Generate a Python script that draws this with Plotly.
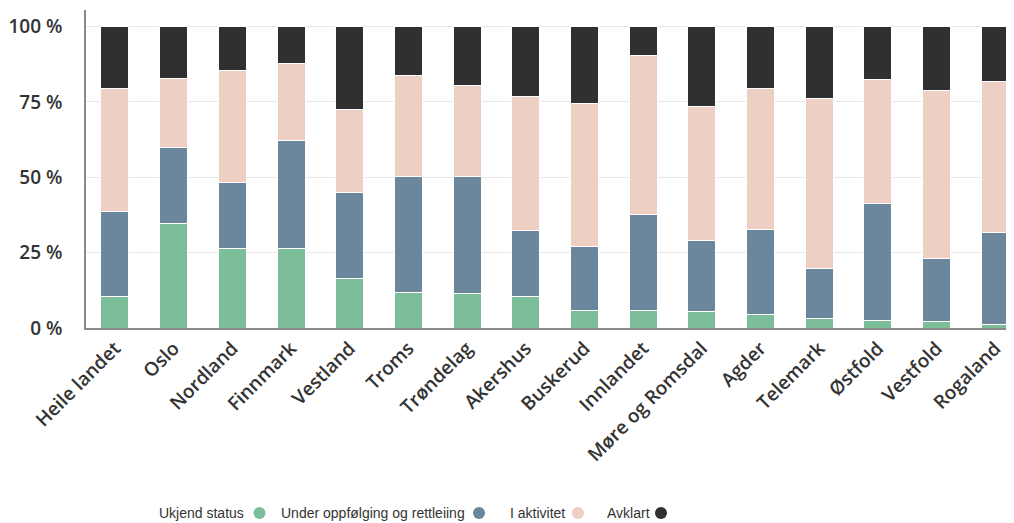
import plotly.graph_objects as go

categories = ["Heile landet", "Oslo", "Nordland", "Finnmark", "Vestland", "Troms",
              "Trøndelag", "Akershus", "Buskerud", "Innlandet", "Møre og Romsdal",
              "Agder", "Telemark", "Østfold", "Vestfold", "Rogaland"]

ukjend_status = [10.5, 34.8, 26.3, 26.3, 16.5, 11.9, 11.5, 10.5, 5.9, 5.9, 5.4, 4.5, 3.0, 2.5, 2.1, 1.3]
under_oppfolging = [28.2, 25.1, 22.1, 35.9, 28.6, 38.4, 38.8, 21.8, 21.2, 31.9, 23.6, 28.1, 16.7, 38.9, 20.8, 30.5]
i_aktivitet = [40.6, 22.8, 37.1, 25.6, 27.4, 33.4, 30.0, 44.6, 47.3, 52.6, 44.4, 46.7, 56.5, 41.1, 56.0, 50.0]
avklart = [20.7, 17.3, 14.5, 12.2, 27.5, 16.3, 19.7, 23.1, 25.6, 9.6, 26.6, 20.7, 23.8, 17.5, 21.1, 18.2]

series_names = ["Ukjend status", "Under oppfølging og rettleiing", "I aktivitet", "Avklart"]
series_values = [ukjend_status, under_oppfolging, i_aktivitet, avklart]
colors = ["#7dbe9a", "#6c879c", "#eecfc3", "#303030"]

y_ticks = [0, 25, 50, 75, 100]

fig = go.Figure()
for name, vals, col in zip(series_names, series_values, colors):
    fig.add_trace(go.Bar(
        x=categories, y=vals, name=name,
        marker=dict(color=col, line=dict(color="#ffffff", width=1)),
        showlegend=False,
    ))

tick_font = dict(family="Open Sans", size=19, color="#333333", weight=600)

# the page body adds an 8px offset; the figure fills the rest of the window
fig.update_layout(
    width=1006, height=515, autosize=False,
    barmode="stack", bargap=0.523,
    plot_bgcolor="#ffffff", paper_bgcolor="#ffffff",
    margin=dict(l=78, r=0, t=2, b=195),
    xaxis=dict(
        type="category", range=[-0.494, 15.32], automargin=False,
        tickangle=-45, tickfont=tick_font,
        showline=True, linecolor="#8a8a8a", linewidth=1.5,
        showgrid=False, ticks="",
    ),
    yaxis=dict(
        range=[0, 105.5], tickvals=y_ticks, ticktext=[f"{v} %" for v in y_ticks],
        tickfont=tick_font, automargin=False,
        showline=True, linecolor="#8a8a8a", linewidth=1.5,
        showgrid=True, gridcolor="#e8e8e8", gridwidth=1,
        ticks="outside", ticklen=18, tickcolor="rgba(0,0,0,0)",
        zeroline=False,
    ),
)

# custom legend: text followed by a coloured dot (positions in window pixels)
legend_font = dict(family="Liberation Sans, Arial, sans-serif", size=14, color="#333333")
text_right_px = [246, 467, 567, 652]
dot_center_px = [259.5, 479, 578, 661]
legend_y_px = 513
plot_left, plot_w = 86, 928
plot_bottom, plot_h = 328, 318
ly = (plot_bottom - legend_y_px) / plot_h
for name, col, tx, dx in zip(series_names, colors, text_right_px, dot_center_px):
    fig.add_annotation(
        x=(tx - plot_left) / plot_w, y=ly, xref="paper", yref="paper",
        text=name, showarrow=False, xanchor="right", yanchor="middle",
        font=legend_font,
    )
    fig.add_shape(
        type="circle", xref="paper", yref="paper",
        xsizemode="pixel", ysizemode="pixel",
        xanchor=(dx - plot_left) / plot_w, yanchor=ly,
        x0=-6, x1=6, y0=-6, y1=6,
        fillcolor=col, line=dict(width=0),
    )

fig.write_html("out.html")
